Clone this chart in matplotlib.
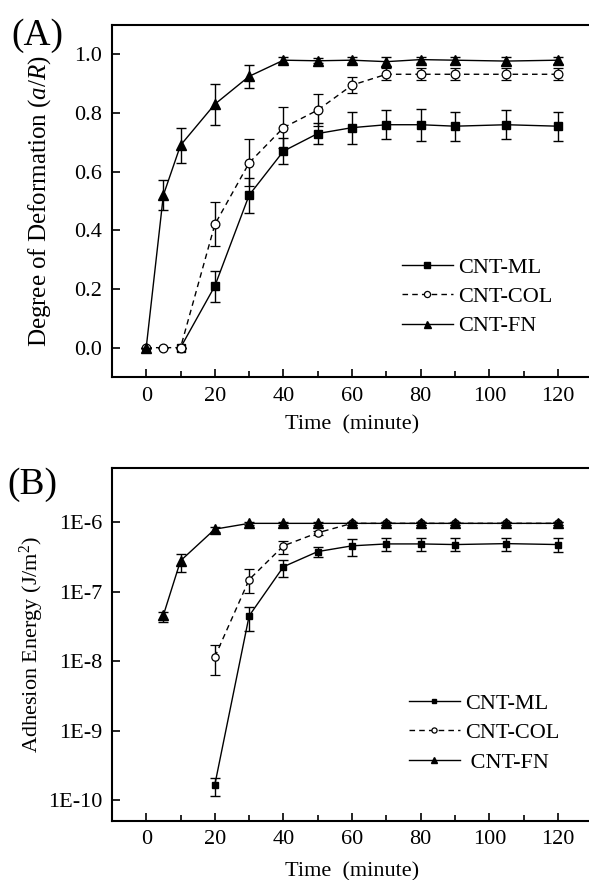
import numpy as np
import matplotlib
matplotlib.use('Agg')
from matplotlib import pyplot as plt
from matplotlib.ticker import MultipleLocator, FixedLocator, FuncFormatter

plt.rcParams['font.family'] = ['Liberation Serif', 'DejaVu Serif']
plt.rcParams['mathtext.fontset'] = 'custom'
plt.rcParams['mathtext.rm'] = 'Liberation Serif'
plt.rcParams['mathtext.it'] = 'Liberation Serif:italic'

# Panel A: degree of deformation (a/R)
t_ml_a = [10, 20, 30, 40, 50, 60, 70, 80, 90, 105, 120]
ml_a = [0, 0.21, 0.52, 0.67, 0.73, 0.75, 0.76, 0.76, 0.755, 0.76, 0.755]
ml_a_err = [0, 0.053, 0.06, 0.045, 0.035, 0.055, 0.05, 0.054, 0.05, 0.05, 0.05]

t_col_a = [0, 5, 10, 20, 30, 40, 50, 60, 70, 80, 90, 105, 120]
col_a = [0, 0, 0, 0.42, 0.63, 0.75, 0.81, 0.895, 0.932, 0.932, 0.932, 0.932, 0.932]
col_a_err = [0, 0, 0, 0.075, 0.08, 0.07, 0.055, 0.028, 0.02, 0.02, 0.02, 0.02, 0.02]

t_fn_a = [0, 5, 10, 20, 30, 40, 50, 60, 70, 80, 90, 105, 120]
fn_a = [0, 0.52, 0.69, 0.83, 0.925, 0.98, 0.978, 0.98, 0.975, 0.982, 0.98, 0.977, 0.98]
fn_a_err = [0, 0.05, 0.06, 0.07, 0.04, 0.01, 0.008, 0.01, 0.015, 0.01, 0.012, 0.015, 0.012]

# Panel B: adhesion energy (J/m2), with lower / upper error limits
t_ml_b = [20, 30, 40, 50, 60, 70, 80, 90, 105, 120]
ml_b = [1.66e-10, 4.5e-8, 2.3e-7, 3.8e-7, 4.6e-7, 4.9e-7, 4.9e-7, 4.8e-7, 4.95e-7, 4.8e-7]
ml_b_lo = [1.15e-10, 2.75e-8, 1.65e-7, 3.2e-7, 3.3e-7, 3.9e-7, 3.9e-7, 3.9e-7, 3.9e-7, 3.8e-7]
ml_b_hi = [2.1e-10, 6e-8, 2.9e-7, 4.4e-7, 5.7e-7, 5.9e-7, 6e-7, 5.9e-7, 6e-7, 5.9e-7]

t_col_b = [20, 30, 40, 50, 60, 70, 80, 90, 105, 120]
col_b = [1.15e-8, 1.5e-7, 4.6e-7, 7.1e-7, 9.7e-7, 9.7e-7, 9.7e-7, 9.7e-7, 9.7e-7, 9.7e-7]
col_b_lo = [6.3e-9, 9.5e-8, 3.5e-7, 6.5e-7, 9.3e-7, 9.3e-7, 9.3e-7, 9.3e-7, 9.3e-7, 9.3e-7]
col_b_hi = [1.7e-8, 2.1e-7, 5.4e-7, 7.6e-7, 1.0e-6, 1.0e-6, 1.0e-6, 1.0e-6, 1.0e-6, 1.0e-6]

t_fn_b = [5, 10, 20, 30, 40, 50, 60, 70, 80, 90, 105, 120]
fn_b = [4.6e-8, 2.8e-7, 8e-7, 9.7e-7, 9.7e-7, 9.7e-7, 9.7e-7, 9.7e-7, 9.7e-7, 9.7e-7, 9.7e-7, 9.7e-7]
fn_b_lo = [3.7e-8, 1.9e-7, 7.2e-7, 9.3e-7, 9.3e-7, 9.3e-7, 9.3e-7, 9.3e-7, 9.3e-7, 9.3e-7, 9.3e-7, 9.3e-7]
fn_b_hi = [5.1e-8, 3.5e-7, 8.5e-7, 1.0e-6, 1.0e-6, 1.0e-6, 1.0e-6, 1.0e-6, 1.0e-6, 1.0e-6, 1.0e-6, 1.0e-6]

labels = ['CNT-ML', 'CNT-COL', 'CNT-FN']

fig = plt.figure(figsize=(5.89, 8.80), dpi=100)
axA = fig.add_axes([0.190, 0.5716, 0.8155, 0.400])
axB = fig.add_axes([0.190, 0.0674, 0.8155, 0.4004])

ebkw = dict(color='black', lw=1.0, elinewidth=1.0, capsize=3.5, capthick=1.0)


def asym(v, lo, hi):
    v = np.array(v)
    return [v - np.array(lo), np.array(hi) - v]


# Panel A
axA.errorbar(t_ml_a, ml_a, yerr=ml_a_err, marker='s', ms=5.2, mfc='black', mec='black',
             ls='-', label=labels[0], zorder=3, **ebkw)
axA.errorbar(t_col_a, col_a, yerr=col_a_err, marker='o', ms=6.3, mfc='white', mec='black',
             mew=0.9, ls='--', dashes=(4, 3), label=labels[1], zorder=4, **ebkw)
axA.errorbar(t_fn_a, fn_a, yerr=fn_a_err, marker='^', ms=7.2, mfc='black', mec='black',
             ls='-', label=labels[2], zorder=5, **ebkw)

# Panel B
axB.errorbar(t_ml_b, ml_b, yerr=asym(ml_b, ml_b_lo, ml_b_hi), marker='s', ms=5.0,
             mfc='black', mec='black', ls='-', label=labels[0], zorder=3, **ebkw)
axB.errorbar(t_col_b, col_b, yerr=asym(col_b, col_b_lo, col_b_hi), marker='o', ms=5.3,
             mfc='white', mec='black', mew=0.9, ls='--', dashes=(4, 3), label=labels[1],
             zorder=4, **ebkw)
axB.errorbar(t_fn_b, fn_b, yerr=asym(fn_b, fn_b_lo, fn_b_hi), marker='^', ms=6.8,
             mfc='black', mec='black', ls='-', label=' ' + labels[2], zorder=5, **ebkw)
axB.set_yscale('log')

for ax in (axA, axB):
    ax.set_xlim(-10, 130)
    ax.xaxis.set_major_locator(MultipleLocator(20))
    ax.xaxis.set_minor_locator(MultipleLocator(10))
    ax.tick_params(which='both', direction='in', labelsize=16, width=1.2)
    ax.tick_params(which='major', length=6, pad=7)
    ax.tick_params(which='minor', length=4)
    ax.tick_params(axis='y', which='minor', length=0)
    for s in ax.spines.values():
        s.set_linewidth(1.5)
    ax.set_xlabel('Time  (minute)', fontsize=16, va='center')

axA.set_ylim(-0.1, 1.1)
axA.yaxis.set_major_locator(MultipleLocator(0.2))
axA.yaxis.set_major_formatter(FuncFormatter(lambda v, p: '%.1f' % v))
axA.set_ylabel('Degree of Deformation ($\\mathit{a/R}$)', fontsize=18, va='center')
axA.yaxis.set_label_coords(-0.150, 0.5)
axA.xaxis.set_label_coords(0.5, -0.137)

axB.set_ylim(10 ** -10.3, 10 ** -5.22)
axB.yaxis.set_major_locator(FixedLocator([1e-10, 1e-9, 1e-8, 1e-7, 1e-6]))
axB.yaxis.set_major_formatter(FuncFormatter(lambda v, p: '1E-%d' % round(-np.log10(v))))
axB.set_ylabel('Adhesion Energy (J/m$^2$)', fontsize=16, va='center')
axB.yaxis.set_label_coords(-0.167, 0.5)
axB.xaxis.set_label_coords(0.5, -0.145)

legkw = dict(frameon=False, fontsize=16, loc='center left', borderpad=0, borderaxespad=0,
             handlelength=2.3, handletextpad=0.25, labelspacing=0.4, markerscale=0.7)
hA, lA = axA.get_legend_handles_labels()
axA.legend([h[0] for h in hA], lA, bbox_to_anchor=(0.603, 0.228), **legkw)
hB, lB = axB.get_legend_handles_labels()
axB.legend([h[0] for h in hB], lB, bbox_to_anchor=(0.618, 0.249), **legkw)

fig.text(0.019, 0.959, '(A)', fontsize=27, va='center', ha='left')
fig.text(0.012, 0.449, '(B)', fontsize=27, va='center', ha='left')

fig.savefig('out.png', dpi=100)
plt.close(fig)
